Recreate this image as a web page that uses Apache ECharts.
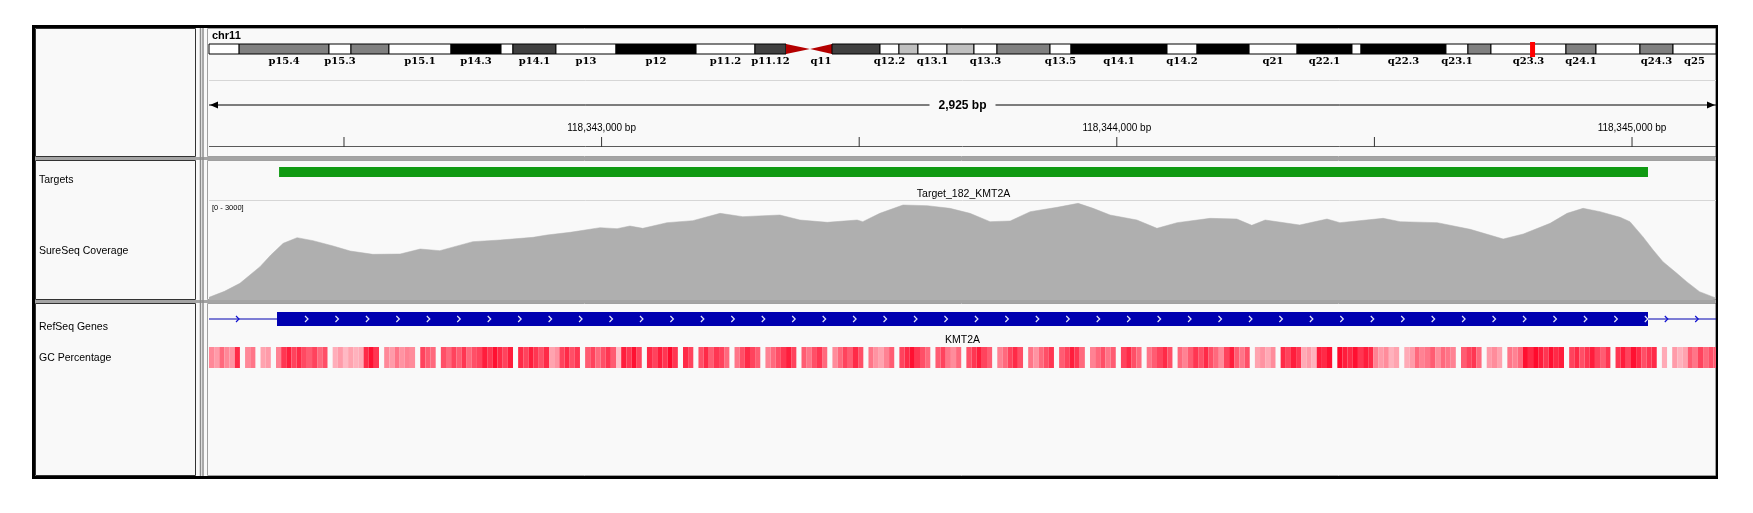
<!DOCTYPE html>
<html>
<head>
<meta charset="utf-8">
<title>chr11 KMT2A</title>
<script src="https://cdn.jsdelivr.net/npm/echarts@6/dist/echarts.min.js"></script>
<style>
  html, body { margin: 0; padding: 0; background: #ffffff; }
  #chart { width: 1753px; height: 513px; }
</style>
</head>
<body>
<div id="chart"></div>
<script>
// viewed region on chr11 (bp)
const regionStart = 118342238
const regionEnd = 118345163

// chr11 cytobands (Mb)
const bandName = ['p15.5','p15.4','p15.3','p15.2','p15.1','p14.3','p14.2','p14.1','p13','p12','p11.2','p11.12','p11.11',
  'q11','q12.1','q12.2','q12.3','q13.1','q13.2','q13.3','q13.4','q13.5','q14.1','q14.2','q14.3','q21','q22.1','q22.2',
  'q22.3','q23.1','q23.2','q23.3','q24.1','q24.2','q24.3','q25']
const bandStart = [0, 2.7, 10.75, 12.72, 16.12, 21.68, 26.16, 27.23, 31.08, 36.46, 43.63, 48.91, 51.69,
  53.84, 55.81, 60.11, 61.81, 63.51, 66.11, 68.53, 70.59, 75.34, 77.22, 85.82, 88.51, 93.17, 97.47, 102.39,
  103.2, 110.81, 112.78, 114.84, 121.56, 124.25, 128.19, 131.15]
const bandEnd = [2.7, 10.75, 12.72, 16.12, 21.68, 26.16, 27.23, 31.08, 36.46, 43.63, 48.91, 51.69, 53.84,
  55.81, 60.11, 61.81, 63.51, 66.11, 68.53, 70.59, 75.34, 77.22, 85.82, 88.51, 93.17, 97.47, 102.39, 103.2,
  110.81, 112.78, 114.84, 121.56, 124.25, 128.19, 131.15, 135.0]
const bandStain = ['gneg','gpos50','gneg','gpos50','gneg','gpos100','gneg','gpos75','gneg','gpos100','gneg','gpos75','acen',
  'acen','gpos75','gneg','gpos25','gneg','gpos25','gneg','gpos50','gneg','gpos100','gneg','gpos100','gneg','gpos100','gneg',
  'gpos100','gneg','gpos50','gneg','gpos50','gneg','gpos50','gneg']
const bandLabels = ['p15.4','p15.3','p15.1','p14.3','p14.1','p13','p12','p11.2','p11.12','q11','q12.2','q13.1','q13.3',
  'q13.5','q14.1','q14.2','q21','q22.1','q22.3','q23.1','q23.3','q24.1','q24.3','q25']
const chrLength = 135.0

// ruler ticks (bp)
const rulerTicks = [118342500, 118343000, 118343500, 118344000, 118344500, 118345000]

// target interval
const targetStart = [118342374]
const targetEnd = [118345031]
const targetName = ['Target_182_KMT2A']

// coverage: bp offset from regionStart, depth
const covMax = 3000
const covOffset = [0, 30, 60, 99, 120, 144, 171, 202, 241, 274, 318, 371, 410, 448, 512, 565, 629, 656, 701, 759,
  792, 817, 842, 889, 939, 992, 1036, 1108, 1147, 1200, 1258, 1269, 1302, 1347, 1394, 1438, 1477, 1516, 1555, 1594,
  1646, 1687, 1716, 1749, 1801, 1840, 1879, 1943, 1995, 2024, 2050, 2117, 2170, 2195, 2279, 2312, 2384, 2448, 2512, 2551,
  2603, 2636, 2667, 2700, 2739, 2758, 2783, 2803, 2822, 2849, 2868, 2893, 2918, 2925]
const covDepth = [80, 260, 500, 1000, 1350, 1700, 1870, 1780, 1620, 1470, 1370, 1380, 1530, 1480, 1750, 1800, 1880, 1950, 2030, 2170,
  2140, 2220, 2150, 2320, 2380, 2600, 2500, 2550, 2400, 2330, 2400, 2350, 2600, 2850, 2830, 2750, 2600, 2350, 2370, 2650,
  2780, 2900, 2750, 2550, 2400, 2150, 2320, 2450, 2430, 2240, 2400, 2250, 2430, 2320, 2450, 2350, 2320, 2120, 1830, 1980,
  2300, 2600, 2750, 2650, 2480, 2350, 1900, 1500, 1150, 800, 550, 250, 100, 60]

// RefSeq gene
const geneName = ['KMT2A']
const geneTxStart = [118307205]
const geneTxEnd = [118397539]
const geneExonStart = [118342370]
const geneExonEnd = [118345031]

// GC percentage in 10 bp bins from regionStart (0 = no value)
const gcBin = 10
const gcPercent = [
  55, 50, 60, 55, 52, 70, 0, 55, 58, 0, 48, 50, 0, 56,
  68, 72, 66, 70, 65, 62, 66, 60, 64, 0,
  45, 50, 42, 48, 44, 46, 70, 74, 68, 0,
  55, 50, 58, 52, 56, 54, 0, 66, 62, 60, 0,
  64, 60, 66, 62, 68, 60, 64, 66, 72, 68, 74, 70, 66, 72, 0,
  70, 66, 72, 68, 64, 70, 48, 52, 66, 70, 64, 68, 0,
  62, 66, 60, 64, 68, 62, 40, 72, 68, 74, 66, 0,
  70, 66, 72, 68, 78, 68, 0, 70, 66, 0, 64, 70, 62, 68,
  66, 60, 0, 58, 64, 70, 66, 62, 0, 56, 60, 64,
  68, 72, 66, 0, 62, 58, 64, 68, 60, 0, 54, 60,
  66, 62, 70, 64, 0, 58, 52, 48, 56, 62, 0, 66,
  70, 74, 68, 64, 60, 0, 62, 66, 58, 54, 60, 0,
  64, 68, 72, 66, 62, 0, 56, 60, 66, 70, 64, 0,
  58, 52, 60, 64, 68, 0, 62, 66, 72, 68, 60, 0,
  56, 60, 64, 58, 62, 0, 66, 70, 64, 60, 0, 58,
  62, 66, 70, 64, 0, 60, 56, 62, 68, 64,
  70, 64, 60, 54, 66, 72, 62, 58, 64, 0,
  48, 52, 46, 54, 0, 70, 66, 72, 68, 46, 50, 44, 72, 70, 74, 0,
  76, 72, 70, 74, 68, 72, 70, 56, 50, 54, 44, 48, 0, 46, 50,
  60, 56, 58, 62, 54, 60, 58, 56, 0, 62, 66, 68, 60, 0,
  50, 54, 48, 0, 58, 56, 60,
  74, 70, 76, 72, 68, 74, 70, 72, 0,
  66, 70, 64, 68, 72, 66, 62, 68, 0,
  68, 72, 66, 74, 70, 64, 68, 70, 0,
  46, 0, 50, 44, 48, 62, 58, 66, 60, 64, 62
]

const stainColor = {gneg: '#ffffff', gpos25: '#c0c0c0', gpos50: '#808080', gpos75: '#404040', gpos100: '#000000', acen: '#b40000'}
const panelBg = '#f9f9f9'
const sans = '"Liberation Sans", Arial, sans-serif'
const dataLeft = 209
const dataWidth = 1507

const chart = echarts.init(document.getElementById('chart'))

function bpAxis(gridIndex) {
  return {type: 'value', gridIndex, min: regionStart, max: regionEnd, show: false}
}
function pxAxis(gridIndex, h) {
  return {type: 'value', gridIndex, min: 0, max: h, inverse: true, show: false}
}
function grid(top, height) {
  return {left: dataLeft, width: dataWidth, top, height}
}

function renderBand(params, api) {
  const i = api.value(2)
  const a = api.coord([api.value(0), 0])
  const b = api.coord([api.value(1), 10])
  const children = []
  if (bandStain[i] === 'acen') {
    const mid = (a[1] + b[1]) / 2
    const pts = bandName[i][0] === 'p'
      ? [[a[0], a[1]], [b[0], mid], [a[0], b[1]]]
      : [[b[0], a[1]], [a[0], mid], [b[0], b[1]]]
    children.push({type: 'polygon', shape: {points: pts}, style: {fill: stainColor.acen}})
  } else {
    children.push({type: 'rect', shape: {x: a[0], y: a[1], width: b[0] - a[0], height: b[1] - a[1]},
      style: {fill: stainColor[bandStain[i]], stroke: '#000', lineWidth: 1}})
  }
  if (bandLabels.indexOf(bandName[i]) >= 0) {
    const ly = api.coord([0, 17])[1]
    children.push({type: 'text', style: {text: bandName[i], x: (a[0] + b[0]) / 2, y: ly, align: 'center',
      verticalAlign: 'middle', fontSize: 10, fontWeight: 'bold', fontFamily: '"DejaVu Serif", serif', fill: '#000'}})
  }
  return {type: 'group', children}
}

function renderMarker(params, api) {
  const a = api.coord([api.value(0), -2])
  const b = api.coord([api.value(1), 13])
  const w = Math.max(b[0] - a[0], 5)
  return {type: 'rect', shape: {x: a[0], y: a[1], width: w, height: b[1] - a[1]}, style: {fill: '#ff0000'}}
}

function renderTick(params, api) {
  const v = api.value(0)
  const p = api.coord([v, 67])
  const children = [{type: 'line', shape: {x1: p[0], y1: p[1] - 10, x2: p[0], y2: p[1]}, style: {stroke: '#333', lineWidth: 1}}]
  if (v % 1000 === 0) {
    children.push({type: 'text', style: {text: v.toLocaleString('en-US') + ' bp', x: p[0], y: p[1] - 19,
      align: 'center', verticalAlign: 'middle', fontSize: 10, fontFamily: sans, fill: '#000'}})
  }
  return {type: 'group', children}
}

function renderSpan(params, api) {
  const a = api.coord([api.value(0), 25])
  const b = api.coord([api.value(1), 25])
  const y = a[1]
  const cx = (a[0] + b[0]) / 2
  const label = (api.value(1) - api.value(0)).toLocaleString('en-US') + ' bp'
  return {type: 'group', children: [
    {type: 'line', shape: {x1: a[0], y1: y, x2: b[0], y2: y}, style: {stroke: '#000', lineWidth: 1}},
    {type: 'polygon', shape: {points: [[a[0] + 1, y], [a[0] + 9, y - 3.5], [a[0] + 9, y + 3.5]]}, style: {fill: '#000'}},
    {type: 'polygon', shape: {points: [[b[0] - 1, y], [b[0] - 9, y - 3.5], [b[0] - 9, y + 3.5]]}, style: {fill: '#000'}},
    {type: 'rect', shape: {x: cx - 33, y: y - 8, width: 66, height: 16}, style: {fill: panelBg}},
    {type: 'text', style: {text: label, x: cx, y: y + 1, align: 'center', verticalAlign: 'middle',
      fontSize: 12, fontWeight: 'bold', fontFamily: sans, fill: '#000'}}
  ]}
}

function renderTarget(params, api) {
  const a = api.coord([api.value(0), 7])
  const b = api.coord([api.value(1), 17])
  const ly = api.coord([0, 34])[1]
  return {type: 'group', children: [
    {type: 'rect', shape: {x: a[0], y: a[1], width: b[0] - a[0], height: b[1] - a[1]}, style: {fill: '#109a12'}},
    {type: 'text', style: {text: targetName[params.dataIndex], x: (a[0] + b[0]) / 2, y: ly, align: 'center',
      verticalAlign: 'middle', fontSize: 10.5, fontFamily: sans, fill: '#000'}}
  ]}
}

function chevron(x, y, color) {
  return {type: 'polyline', shape: {points: [[x - 2, y - 3], [x + 1, y], [x - 2, y + 3]]}, style: {stroke: color, lineWidth: 1.2, fill: null}}
}

function renderGene(params, api) {
  const cs = params.coordSys
  const t0 = api.coord([api.value(0), 16])
  const t1 = api.coord([api.value(1), 16])
  const e0 = api.coord([api.value(2), 9])
  const e1 = api.coord([api.value(3), 23])
  const y = t0[1]
  const left = Math.max(t0[0], cs.x)
  const right = Math.min(t1[0], cs.x + cs.width)
  const children = [
    {type: 'line', shape: {x1: left, y1: y, x2: right, y2: y}, style: {stroke: '#0000b0', lineWidth: 1}},
    {type: 'rect', shape: {x: e0[0], y: e0[1], width: e1[0] - e0[0], height: e1[1] - e0[1]}, style: {fill: '#0000b0'}}
  ]
  // strand arrows on intron line and inside the exon
  for (let x = cs.x + 29; x < right - 3; x += 30.4) {
    if (x > e0[0] - 10 && x < e1[0] + 10) continue
    children.push(chevron(x, y, '#1010d0'))
  }
  for (let x = e0[0] + 30; x <= e1[0] + 0.5; x += 30.45) {
    children.push(chevron(x, y, '#e4e6f8'))
  }
  const ly = api.coord([0, 37])[1]
  children.push({type: 'text', style: {text: geneName[params.dataIndex], x: (e0[0] + e1[0]) / 2, y: ly,
    align: 'center', verticalAlign: 'middle', fontSize: 10.5, fontFamily: sans, fill: '#000'}})
  return {type: 'group', children}
}

function renderGc(params, api) {
  const a = api.coord([api.value(0), 0])
  const b = api.coord([api.value(1), 21])
  return {type: 'rect', shape: {x: a[0], y: a[1], width: b[0] - a[0], height: b[1] - a[1]}, style: {fill: api.visual('color')}}
}

const bandData = bandName.map((n, i) => [bandStart[i], bandEnd[i], i])
const coverageData = covOffset.map((o, i) => [regionStart + o, covDepth[i]])
const gcData = []
gcPercent.forEach((v, i) => {
  if (v > 0) gcData.push([regionStart + i * gcBin, Math.min(regionStart + (i + 1) * gcBin, regionEnd), v])
})

const textStyle = (text, x, y, extra) => ({type: 'text', x, y, style: Object.assign({text, fill: '#000', fontSize: 10,
  fontFamily: sans, verticalAlign: 'middle'}, extra || {})})

const chrome = [
  {type: 'rect', shape: {x: 33.5, y: 26.5, width: 1683, height: 451}, style: {fill: panelBg, stroke: '#000', lineWidth: 3}},
  {type: 'rect', shape: {x: 35, y: 157, width: 1681, height: 3}, style: {fill: '#a4a4a4'}},
  {type: 'rect', shape: {x: 35, y: 300, width: 1681, height: 3}, style: {fill: '#a4a4a4'}},
  {type: 'rect', shape: {x: 35.5, y: 28.5, width: 160, height: 128}, style: {fill: null, stroke: '#333', lineWidth: 1}},
  {type: 'rect', shape: {x: 35.5, y: 160.5, width: 160, height: 139}, style: {fill: null, stroke: '#333', lineWidth: 1}},
  {type: 'rect', shape: {x: 35.5, y: 303.5, width: 160, height: 172}, style: {fill: null, stroke: '#333', lineWidth: 1}},
  {type: 'line', shape: {x1: 200.5, y1: 28, x2: 200.5, y2: 476}, style: {stroke: '#8c8c8c', lineWidth: 1.5}},
  {type: 'line', shape: {x1: 203, y1: 28, x2: 203, y2: 476}, style: {stroke: '#8c8c8c', lineWidth: 1.5}},
  {type: 'rect', shape: {x: 207.5, y: 28.5, width: 1508, height: 128}, style: {fill: null, stroke: '#a0a0a0', lineWidth: 1}},
  {type: 'rect', shape: {x: 207.5, y: 160.5, width: 1508, height: 139}, style: {fill: null, stroke: '#a0a0a0', lineWidth: 1}},
  {type: 'rect', shape: {x: 207.5, y: 303.5, width: 1508, height: 172}, style: {fill: null, stroke: '#a0a0a0', lineWidth: 1}},
  {type: 'line', shape: {x1: 209, y1: 80.5, x2: 1716, y2: 80.5}, style: {stroke: '#d6d6d6', lineWidth: 1}},
  {type: 'line', shape: {x1: 209, y1: 200.5, x2: 1716, y2: 200.5}, style: {stroke: '#d6d6d6', lineWidth: 1}},
  {type: 'line', shape: {x1: 209, y1: 146.5, x2: 1716, y2: 146.5}, style: {stroke: '#5a5a5a', lineWidth: 1}},
  textStyle('chr11', 212, 36, {fontSize: 11, fontWeight: 'bold'}),
  textStyle('Targets', 39, 180, {fontSize: 10.5}),
  textStyle('SureSeq Coverage', 39, 251, {fontSize: 10.5}),
  textStyle('RefSeq Genes', 39, 327, {fontSize: 10.5}),
  textStyle('GC Percentage', 39, 358, {fontSize: 10.5}),
  textStyle('[0 - ' + covMax + ']', 212, 208, {fontSize: 7.5})
]

chart.setOption({
  animation: false,
  backgroundColor: '#ffffff',
  graphic: {elements: chrome},
  grid: [grid(44, 10), grid(80, 67), grid(160, 40), grid(200, 100), grid(303, 40), grid(347, 21)],
  xAxis: [
    {type: 'value', gridIndex: 0, min: 0, max: chrLength, show: false},
    bpAxis(1), bpAxis(2), bpAxis(3), bpAxis(4), bpAxis(5)
  ],
  yAxis: [
    pxAxis(0, 10), pxAxis(1, 67), pxAxis(2, 40),
    {type: 'value', gridIndex: 3, min: 0, max: covMax, show: false},
    pxAxis(4, 40), pxAxis(5, 21)
  ],
  visualMap: {
    type: 'continuous', show: false, seriesIndex: 7, dimension: 2, min: 35, max: 75,
    inRange: {color: ['#ffd4db', '#ff8898', '#ff0a2c']}
  },
  series: [
    {type: 'custom', name: 'cytobands', xAxisIndex: 0, yAxisIndex: 0, renderItem: renderBand, data: bandData},
    {type: 'custom', name: 'locus', xAxisIndex: 0, yAxisIndex: 0, renderItem: renderMarker, z: 3,
      data: [[regionStart / 1e6, regionEnd / 1e6]]},
    {type: 'custom', name: 'ticks', xAxisIndex: 1, yAxisIndex: 1, renderItem: renderTick, data: rulerTicks.map(v => [v])},
    {type: 'custom', name: 'span', xAxisIndex: 1, yAxisIndex: 1, renderItem: renderSpan, data: [[regionStart, regionEnd]]},
    {type: 'custom', name: 'Targets', xAxisIndex: 2, yAxisIndex: 2, renderItem: renderTarget,
      data: targetStart.map((s, i) => [s, targetEnd[i]])},
    {type: 'line', name: 'SureSeq Coverage', xAxisIndex: 3, yAxisIndex: 3, data: coverageData, symbol: 'none',
      lineStyle: {width: 0.5, color: '#afafaf'}, areaStyle: {color: '#afafaf', opacity: 1}, silent: true},
    {type: 'custom', name: 'RefSeq Genes', xAxisIndex: 4, yAxisIndex: 4, renderItem: renderGene, clip: true,
      data: geneName.map((n, i) => [geneTxStart[i], geneTxEnd[i], geneExonStart[i], geneExonEnd[i]])},
    {type: 'custom', name: 'GC Percentage', xAxisIndex: 5, yAxisIndex: 5, renderItem: renderGc, data: gcData}
  ]
})
</script>
</body>
</html>
